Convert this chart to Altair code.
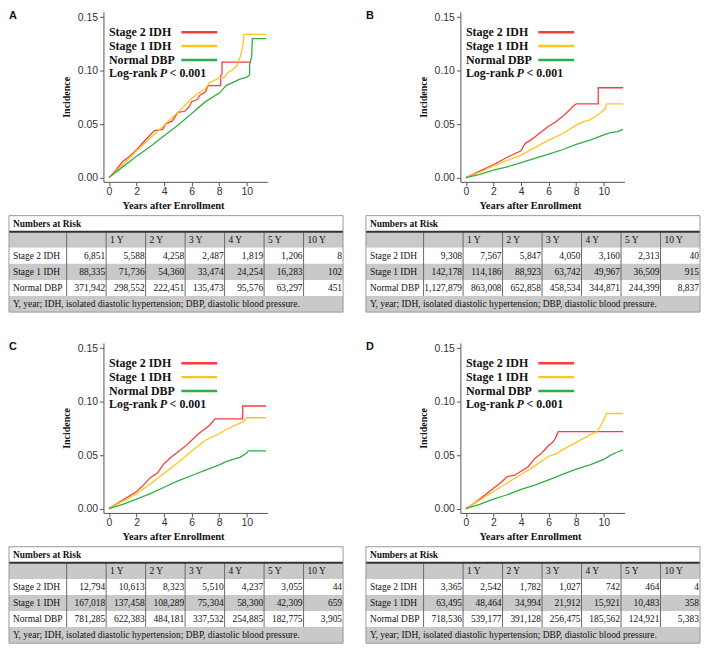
import numpy as np
import pandas as pd
import altair as alt

GROUPS = ["Stage 2 IDH", "Stage 1 IDH", "Normal DBP"]
COLORS = ["#FF3B3B", "#FFC423", "#2DB043"]
YEAR_COLS = ["1 Y", "2 Y", "3 Y", "4 Y", "5 Y", "10 Y"]
FOOTNOTE = "Y, year; IDH, isolated diastolic hypertension; DBP, diastolic blood pressure."

# ---- cumulative incidence curves (years, incidence) ----
A_S2_T = [0, 0.5, 1, 1.5, 2, 2.5, 3, 3.3, 3.9, 4.1, 4.6, 5, 5.5, 5.8, 6, 6.4, 6.6, 7, 7.2, 8.1, 8.1, 8.2, 8.2, 10.3]
A_S2_Y = [0, 0.007, 0.015, 0.020, 0.026, 0.033, 0.040, 0.044, 0.045, 0.050, 0.053, 0.061, 0.062, 0.066, 0.071, 0.073, 0.077, 0.080, 0.086, 0.086, 0.095, 0.097, 0.108, 0.108]
A_S1_T = [0, 1, 2, 3, 4, 5, 6, 6.5, 7, 7.3, 8, 8.4, 8.6, 9, 9.3, 9.5, 9.7, 9.8, 11.4]
A_S1_Y = [0, 0.012, 0.025, 0.037, 0.049, 0.061, 0.074, 0.079, 0.083, 0.089, 0.093, 0.094, 0.098, 0.101, 0.105, 0.112, 0.122, 0.134, 0.134]
A_N_T = [0, 1, 2, 3, 4, 5, 6, 7, 8, 8.5, 9, 9.5, 10, 10.2, 10.2, 10.35, 10.4, 11.4]
A_N_Y = [0, 0.010, 0.020, 0.029, 0.039, 0.049, 0.060, 0.071, 0.079, 0.086, 0.089, 0.092, 0.094, 0.096, 0.105, 0.113, 0.130, 0.130]

B_S2_T = [0, 1, 2, 3, 3.5, 4, 4.3, 4.7, 5, 5.5, 6, 6.5, 7, 7.5, 7.8, 8, 9.6, 9.6, 11.4]
B_S2_Y = [0, 0.006, 0.012, 0.019, 0.022, 0.025, 0.032, 0.035, 0.038, 0.043, 0.048, 0.052, 0.057, 0.063, 0.067, 0.069, 0.069, 0.084, 0.084]
B_S1_T = [0, 1, 2, 3, 4, 5, 6, 7, 8, 8.5, 9, 9.5, 9.8, 10.1, 10.2, 11.4]
B_S1_Y = [0, 0.005, 0.011, 0.016, 0.021, 0.028, 0.035, 0.041, 0.049, 0.052, 0.054, 0.058, 0.061, 0.064, 0.069, 0.069]
B_N_T = [0, 1, 2, 3, 4, 5, 6, 7, 8, 9, 10, 10.5, 11, 11.4]
B_N_Y = [0, 0.003, 0.007, 0.010, 0.014, 0.018, 0.022, 0.026, 0.031, 0.035, 0.040, 0.042, 0.043, 0.045]

C_S2_T = [0, 1, 2, 2.5, 3, 3.5, 4, 4.5, 5, 5.5, 6, 6.5, 7, 7.3, 7.7, 9.7, 9.7, 11.4]
C_S2_Y = [0, 0.008, 0.016, 0.022, 0.029, 0.033, 0.042, 0.048, 0.053, 0.058, 0.064, 0.070, 0.075, 0.078, 0.084, 0.084, 0.096, 0.096]
C_S1_T = [0, 1, 2, 3, 4, 5, 6, 7, 8, 8.5, 9, 9.5, 9.8, 10, 11.4]
C_S1_Y = [0, 0.007, 0.014, 0.023, 0.033, 0.043, 0.054, 0.064, 0.070, 0.074, 0.077, 0.080, 0.082, 0.085, 0.085]
C_N_T = [0, 1, 2, 3, 4, 5, 6, 7, 8, 8.5, 9, 9.5, 10, 10.1, 11.4]
C_N_Y = [0, 0.004, 0.009, 0.014, 0.020, 0.026, 0.031, 0.036, 0.041, 0.044, 0.046, 0.048, 0.052, 0.054, 0.054]

D_S2_T = [0, 0.5, 1, 1.5, 2, 2.5, 3, 3.5, 4, 4.5, 5, 5.5, 6, 6.3, 6.5, 6.7, 11.4]
D_S2_Y = [0, 0.004, 0.009, 0.014, 0.019, 0.024, 0.030, 0.031, 0.035, 0.039, 0.047, 0.052, 0.059, 0.062, 0.066, 0.072, 0.072]
D_S1_T = [0, 1, 2, 3, 4, 5, 6, 6.5, 7, 8, 9, 9.5, 9.8, 10, 10.2, 11.4]
D_S1_Y = [0, 0.008, 0.016, 0.024, 0.032, 0.040, 0.049, 0.051, 0.055, 0.062, 0.069, 0.072, 0.078, 0.083, 0.089, 0.089]
D_N_T = [0, 1, 2, 3, 4, 5, 6, 7, 8, 9, 10, 10.5, 11, 11.4]
D_N_Y = [0, 0.004, 0.009, 0.013, 0.018, 0.022, 0.027, 0.032, 0.037, 0.041, 0.046, 0.050, 0.053, 0.055]

# ---- numbers at risk (baseline, 1Y, 2Y, 3Y, 4Y, 5Y, 10Y) ----
A_RISK_S2 = [6851, 5588, 4258, 2487, 1819, 1206, 8]
A_RISK_S1 = [88335, 71736, 54360, 33474, 24254, 16283, 102]
A_RISK_N = [371942, 298552, 222451, 135473, 95576, 63297, 451]
B_RISK_S2 = [9308, 7567, 5847, 4050, 3160, 2313, 40]
B_RISK_S1 = [142178, 114186, 88923, 63742, 49967, 36509, 915]
B_RISK_N = [1127879, 863008, 652858, 458534, 344871, 244399, 8837]
C_RISK_S2 = [12794, 10613, 8323, 5510, 4237, 3055, 44]
C_RISK_S1 = [167018, 137458, 108289, 75304, 58300, 42309, 659]
C_RISK_N = [781285, 622383, 484181, 337532, 254885, 182775, 3905]
D_RISK_S2 = [3365, 2542, 1782, 1027, 742, 464, 4]
D_RISK_S1 = [63495, 48464, 34994, 21912, 15921, 10483, 358]
D_RISK_N = [718536, 539177, 391128, 256475, 185562, 124921, 5383]

# ---- layout constants ----
PANEL_W = 336
PLOT_LEFT, PLOT_RIGHT = 95, 260
PLOT_H = 171
TABLE_H = 97
SERIF = "Times New Roman, Liberation Serif, DejaVu Serif, serif"
SANS = "Liberation Sans, Arial, sans-serif"
COL_W = [1.46] + [1.0] * 7
EDGES = np.concatenate([[0.0], np.cumsum(COL_W)])
TOTAL = float(EDGES[-1])
GRAY = "#C9C9C9"


def km_plot(letter, curves):
    rows = []
    for g, (ts, ys) in zip(GROUPS, curves):
        for i, (t, y) in enumerate(zip(ts, ys)):
            rows.append(dict(group=g, t=t, inc=y, i=i))
    df = pd.DataFrame(rows)
    xs = alt.Scale(domain=[-0.4, 11.5], range=[PLOT_LEFT, PLOT_RIGHT], nice=False, zero=False)
    ys = alt.Scale(domain=[-0.004, 0.155], nice=False, zero=False)
    xaxis = alt.Axis(values=list(range(0, 12)), format="d",
                     labelExpr="datum.value % 2 === 0 && datum.value <= 10 ? datum.label : ''",
                     tickSize=4, labelPadding=1, labelFont=SANS, labelFontSize=10.5,
                     labelColor="#333", domainColor="#555", tickColor="#555", grid=False,
                     title="Years after Enrollment", titleFont=SERIF, titleFontWeight="bold",
                     titleFontSize=10.5, titleColor="#111", titleX=PLOT_LEFT + 70, titleY=19,
                     titleBaseline="top", titleAlign="center")
    yaxis = alt.Axis(values=[0, 0.05, 0.1, 0.15], format=".2f", tickSize=4, labelPadding=2,
                     labelFont=SANS, labelFontSize=10.5, labelColor="#333",
                     domainColor="#555", tickColor="#555", grid=False, offset=-PLOT_LEFT,
                     title="Incidence", titleFont=SERIF, titleFontWeight="bold",
                     titleFontSize=10, titleColor="#111", titlePadding=6)
    color = alt.Color("group:N", scale=alt.Scale(domain=GROUPS, range=COLORS), legend=None)
    lines = alt.Chart(df).mark_line(strokeWidth=1.3).encode(
        x=alt.X("t:Q", scale=xs, axis=xaxis),
        y=alt.Y("inc:Q", scale=ys, axis=yaxis),
        color=color,
        order="i:Q",
    )
    leg = pd.DataFrame({"group": GROUPS, "ly": [0.136, 0.123, 0.110],
                        "lx": [0.0] * 3, "sx0": [5.25] * 3, "sx1": [7.85] * 3})
    leg_text = alt.Chart(leg).mark_text(align="left", baseline="middle", font=SERIF,
                                        fontWeight="bold", fontSize=12, color="#111").encode(
        x=alt.X("lx:Q", scale=xs), y=alt.Y("ly:Q", scale=ys), text="group:N")
    leg_line = alt.Chart(leg).mark_rule(strokeWidth=2.5).encode(
        x=alt.X("sx0:Q", scale=xs), x2="sx1:Q", y=alt.Y("ly:Q", scale=ys), color=color)
    lr = pd.DataFrame({"txt": ["Log-rank", "P", "< 0.001"], "lx": [0.0] * 3,
                       "ly": [0.0975] * 3, "off": [0, 51, 61]})
    lr_parts = []
    for k, style in enumerate(["normal", "italic", "normal"]):
        lr_parts.append(
            alt.Chart(lr.iloc[[k]]).mark_text(align="left", baseline="middle", font=SERIF,
                                               fontWeight="bold", fontStyle=style, fontSize=12,
                                               color="#111", dx=int(lr["off"].iloc[k])).encode(
                x=alt.X("lx:Q", scale=xs), y=alt.Y("ly:Q", scale=ys), text="txt:N"))
    lab = alt.Chart(pd.DataFrame({"letter": [letter]})).mark_text(
        align="left", baseline="middle", font=SANS, fontWeight="bold", fontSize=11,
        color="#111").encode(x=alt.value(0), y=alt.value(4), text="letter:N")
    return alt.layer(lines, leg_line, leg_text, *lr_parts, lab).properties(
        width=PANEL_W, height=PLOT_H)


def risk_table(risk):
    xs = alt.Scale(domain=[0, TOTAL], nice=False, zero=False)
    ysc = alt.Scale(domain=[0, 6], nice=False, zero=False, reverse=True)
    bg = pd.DataFrame({"r0": list(range(6)), "r1": [r + 1 for r in range(6)],
                       "x0": [0.0] * 6, "x1": [TOTAL] * 6,
                       "fill": ["#FFFFFF", GRAY, "#FFFFFF", GRAY, "#FFFFFF", GRAY]})
    bg_layer = alt.Chart(bg).mark_rect().encode(
        x=alt.X("x0:Q", scale=xs, axis=None), x2="x1:Q",
        y=alt.Y("r0:Q", scale=ysc, axis=None), y2="r1:Q",
        color=alt.Color("fill:N", scale=None))
    vl = pd.DataFrame({"xe": EDGES[1:-1], "y0": [1] * (len(EDGES) - 2), "y1": [5] * (len(EDGES) - 2)})
    vl_layer = alt.Chart(vl).mark_rule(color="#6A6A6A", strokeWidth=1).encode(
        x=alt.X("xe:Q", scale=xs), y=alt.Y("y0:Q", scale=ysc), y2="y1:Q")
    thick = alt.Chart(pd.DataFrame({"x0": [0.0], "x1": [TOTAL], "yy": [1]})).mark_rule(
        color="#333", strokeWidth=2).encode(
        x=alt.X("x0:Q", scale=xs), x2="x1:Q", y=alt.Y("yy:Q", scale=ysc))
    border = alt.Chart(pd.DataFrame({"x0": [0.0], "x1": [TOTAL], "y0": [0], "y1": [6]})).mark_rect(
        fillOpacity=0, stroke="#999", strokeWidth=1).encode(
        x=alt.X("x0:Q", scale=xs), x2="x1:Q", y=alt.Y("y0:Q", scale=ysc), y2="y1:Q")

    left_rows = []
    for k, h in enumerate(YEAR_COLS):
        left_rows.append(dict(txt=h, xx=EDGES[k + 2], yy=1.5))
    for r, g in enumerate(GROUPS):
        left_rows.append(dict(txt=g, xx=0.0, yy=2.5 + r))
    left_rows.append(dict(txt=FOOTNOTE, xx=0.0, yy=5.5))
    left = alt.Chart(pd.DataFrame(left_rows)).mark_text(
        align="left", baseline="middle", font=SERIF, fontSize=9.5, color="#111", dx=4).encode(
        x=alt.X("xx:Q", scale=xs), y=alt.Y("yy:Q", scale=ysc), text="txt:N")
    title = alt.Chart(pd.DataFrame({"txt": ["Numbers at Risk"], "xx": [0.0], "yy": [0.5]})).mark_text(
        align="left", baseline="middle", font=SERIF, fontSize=9.5, fontWeight="bold",
        color="#111", dx=4).encode(
        x=alt.X("xx:Q", scale=xs), y=alt.Y("yy:Q", scale=ysc), text="txt:N")
    num_rows = []
    for r, vals in enumerate(risk):
        for c, v in enumerate(vals):
            num_rows.append(dict(txt=f"{v:,}", xx=EDGES[c + 2], yy=2.5 + r))
    nums = alt.Chart(pd.DataFrame(num_rows)).mark_text(
        align="right", baseline="middle", font=SERIF, fontSize=9.5, color="#111", dx=-1).encode(
        x=alt.X("xx:Q", scale=xs), y=alt.Y("yy:Q", scale=ysc), text="txt:N")
    return alt.layer(bg_layer, vl_layer, thick, border, left, title, nums).properties(
        width=PANEL_W, height=TABLE_H)


def panel(letter, curves, risk):
    return alt.vconcat(km_plot(letter, curves), risk_table(risk), spacing=3).resolve_scale(
        x="independent", y="independent")


pA = panel("A", [(A_S2_T, A_S2_Y), (A_S1_T, A_S1_Y), (A_N_T, A_N_Y)], [A_RISK_S2, A_RISK_S1, A_RISK_N])
pB = panel("B", [(B_S2_T, B_S2_Y), (B_S1_T, B_S1_Y), (B_N_T, B_N_Y)], [B_RISK_S2, B_RISK_S1, B_RISK_N])
pC = panel("C", [(C_S2_T, C_S2_Y), (C_S1_T, C_S1_Y), (C_N_T, C_N_Y)], [C_RISK_S2, C_RISK_S1, C_RISK_N])
pD = panel("D", [(D_S2_T, D_S2_Y), (D_S1_T, D_S1_Y), (D_N_T, D_N_Y)], [D_RISK_S2, D_RISK_S1, D_RISK_N])

row1 = alt.hconcat(pA, pB, spacing=21).resolve_scale(x="independent", y="independent")
row2 = alt.hconcat(pC, pD, spacing=21).resolve_scale(x="independent", y="independent")
chart = alt.vconcat(row1, row2, spacing=28).resolve_scale(
    x="independent", y="independent").properties(padding=0).configure_view(stroke=None)

chart.save("out.html", embed_options={"renderer": "svg", "actions": False})
